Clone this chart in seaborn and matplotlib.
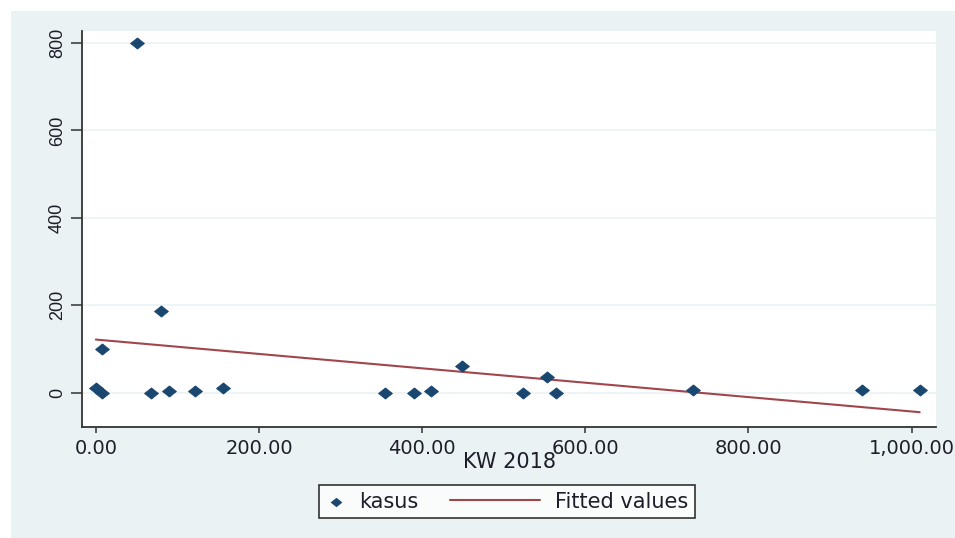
import numpy as np
import pandas as pd
import matplotlib
matplotlib.use("Agg")
import matplotlib.pyplot as plt
from matplotlib.patches import Rectangle
from matplotlib.path import Path
from matplotlib.markers import MarkerStyle
from matplotlib.lines import Line2D
from matplotlib.legend_handler import HandlerLine2D
import seaborn as sns

# KW 2018 against number of cases (kasus)
kw_2018 = [0, 7, 7, 80, 67, 90, 121, 156, 50, 355, 390, 411, 449, 524, 553, 564, 732, 939, 1010]
kasus = [11, 0, 100, 188, 0, 5, 5, 12, 800, 0, 0, 5, 62, 0, 37, 0, 7, 7, 7]

x_ticks = [0, 200, 400, 600, 800, 1000]
x_tick_labels = ["0.00", "200.00", "400.00", "600.00", "800.00", "1,000.00"]
y_ticks = [0, 200, 400, 600, 800]

df = pd.DataFrame({"KW 2018": kw_2018, "kasus": kasus})

sns.set_theme(style="white")
plt.rcParams["font.family"] = ["DejaVu Sans"]

navy = "#1a476f"
maroon = "#a0464c"
panel_bg = "#eaf2f3"
text_col = "#1e1e2a"

# wide diamond marker
diamond = MarkerStyle(Path([(-1.0, 0.0), (0.0, 0.8), (1.0, 0.0), (0.0, -0.8), (-1.0, 0.0)],
                           [Path.MOVETO, Path.LINETO, Path.LINETO, Path.LINETO, Path.CLOSEPOLY]))


class LongLineHandler(HandlerLine2D):
    """Legend handle whose line reaches back into the column gap (lengths in points)."""

    def __init__(self, length_pt, gap_pt, **kw):
        super().__init__(**kw)
        self.length_pt = length_pt
        self.gap_pt = gap_pt

    def create_artists(self, legend, orig_handle, xdescent, ydescent, width,
                       height, fontsize, trans):
        x1 = width - self.gap_pt
        ln = Line2D([x1 - self.length_pt, x1], [height / 2.0] * 2,
                    color=orig_handle.get_color(), lw=orig_handle.get_linewidth())
        ln.set_transform(trans)
        return [ln]


fig = plt.figure(figsize=(9.55, 5.38), dpi=100, facecolor="white")
W, H = 955, 538
fig.patches.append(Rectangle((11 / W, 0), 1 - 11 / W, 1 - 11 / H,
                             transform=fig.transFigure, facecolor=panel_bg,
                             edgecolor="none", zorder=-10))

ax = fig.add_axes([82 / W, 1 - 427 / H, (936 - 82) / W, (427 - 31) / H])
ax.set_facecolor("white")

sns.regplot(data=df, x="KW 2018", y="kasus", scatter=False, ci=None, ax=ax,
            label="Fitted values", line_kws=dict(color=maroon, lw=1.5))
fit_line = ax.lines[-1]
sns.scatterplot(data=df, x="KW 2018", y="kasus", marker=diamond, s=100, color=navy,
                edgecolor=navy, linewidth=0.6, ax=ax, zorder=3, legend=False)
points = ax.collections[-1]

ax.set_xlim(-17, 1030)
ax.set_ylim(-78, 827)
ax.set_xticks(x_ticks)
ax.set_xticklabels(x_tick_labels, fontsize=14, color=text_col)
ax.set_yticks(y_ticks)
ax.set_yticklabels([str(v) for v in y_ticks], rotation=90, va="center",
                   fontsize=13, color=text_col, family="Liberation Sans")
ax.yaxis.grid(True, color=panel_bg, lw=1.2)
ax.set_axisbelow(True)

for side in ["top", "right"]:
    ax.spines[side].set_visible(False)
for side in ["left", "bottom"]:
    ax.spines[side].set_color("#333333")
    ax.spines[side].set_linewidth(1.3)

ax.tick_params(axis="both", which="major", width=1.1, color="#333333",
               direction="out", bottom=True, left=True)
ax.tick_params(axis="x", length=4.3, pad=4.5)
ax.tick_params(axis="y", length=8, pad=3.5)

ax.set_ylabel("")
ax.set_xlabel("KW 2018", fontsize=15, color=text_col, labelpad=-4.5)

leg_fs = 15
leg = ax.legend([points, fit_line], ["kasus", "Fitted values"],
                handler_map={fit_line: LongLineHandler(65, 2)},
                loc="center", bbox_to_anchor=(507 / W, 1 - 501.5 / H),
                bbox_transform=fig.transFigure, ncol=2, frameon=True,
                fancybox=False, edgecolor="black", fontsize=leg_fs,
                handlelength=1.0, handletextpad=0.6, columnspacing=5.0,
                borderpad=0.3, borderaxespad=0, markerscale=0.75, scatterpoints=1)
leg.get_frame().set_linewidth(1.2)
for t in leg.get_texts():
    t.set_color(text_col)

fig.savefig("out.png", dpi=100, facecolor=fig.get_facecolor())
